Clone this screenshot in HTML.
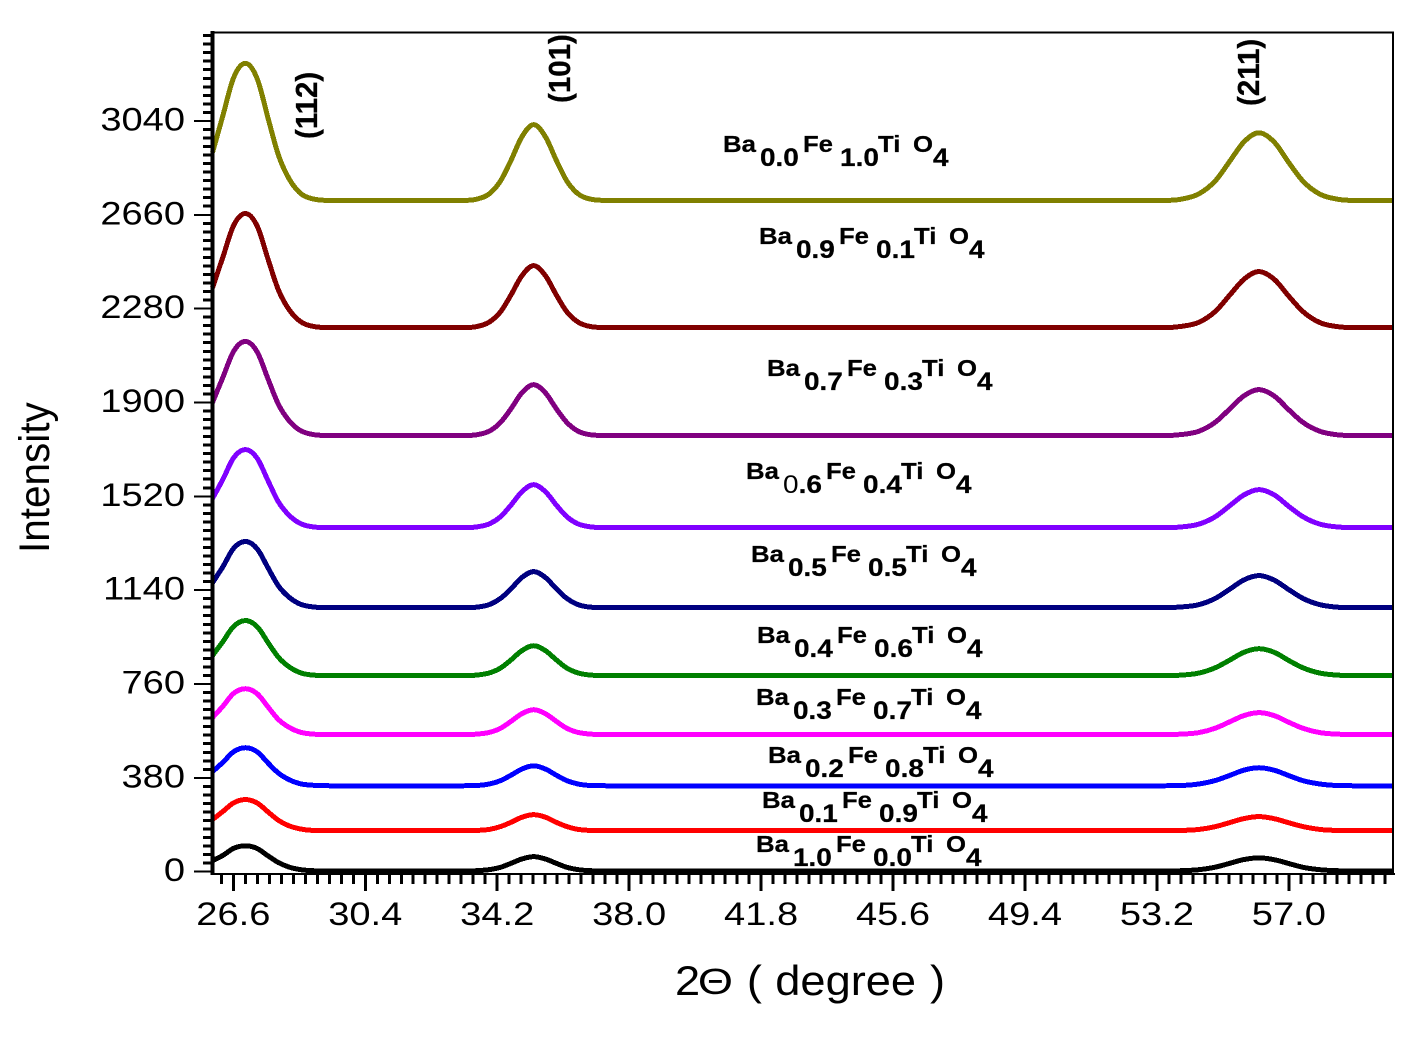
<!DOCTYPE html>
<html lang="en">
<head>
<meta charset="utf-8">
<title>XRD patterns of Ba-Fe-Ti-O4</title>
<style>
html,body{margin:0;padding:0;background:#fff;width:1422px;height:1041px;overflow:hidden}
svg{display:block}
text{font-family:"Liberation Sans",Arial,sans-serif;fill:#000}
.lbl{font-weight:bold;font-size:23px;stroke:#000;stroke-width:.25px}
.sb{font-size:25px}
.pk{font-weight:bold;font-size:29.5px;stroke:#000;stroke-width:.3px}
</style>
</head>
<body>
<svg id="chart" width="1422" height="1041" viewBox="0 0 1422 1041" xmlns="http://www.w3.org/2000/svg">
  <rect x="0" y="0" width="1422" height="1041" fill="#fff"/>
  <g id="series-layer" transform="translate(0,0.5)"></g>
  <g id="axis-layer"></g>

  <text transform="translate(49,553) scale(1.06,1) rotate(-90)" font-size="40.5">Intensity</text>
  <g transform="translate(675,995) scale(1.09,1)" font-size="41.5">
    <text x="0" y="0">2</text>
    <text transform="translate(21,-1) scale(1.15,1)" font-size="36">Θ</text>
    <text x="66" y="0">(</text>
    <text x="92" y="0">degree</text>
    <text x="234" y="0">)</text>
  </g>

  <text class="pk" transform="translate(317,139) scale(1.05,1) rotate(-90)">(112)</text>
  <text class="pk" transform="translate(570,103) scale(1.05,1) rotate(-90)">(101)</text>
  <text class="pk" transform="translate(1259,106) scale(1.05,1) rotate(-90)">(211)</text>

  <text class="lbl" transform="translate(723,152) scale(1.12,1)"><tspan x="0" y="0">Ba</tspan><tspan class="sb" x="33" y="14">0.0</tspan><tspan x="71.4" y="0">Fe</tspan><tspan class="sb" x="104.5" y="14">1.0</tspan><tspan x="138.4" y="0">Ti</tspan><tspan x="169.6" y="0">O</tspan><tspan class="sb" x="187.5" y="14">4</tspan></text>
  <text class="lbl" transform="translate(759,244) scale(1.12,1)"><tspan x="0" y="0">Ba</tspan><tspan class="sb" x="33" y="14">0.9</tspan><tspan x="71.4" y="0">Fe</tspan><tspan class="sb" x="104.5" y="14">0.1</tspan><tspan x="138.4" y="0">Ti</tspan><tspan x="169.6" y="0">O</tspan><tspan class="sb" x="187.5" y="14">4</tspan></text>
  <text class="lbl" transform="translate(767,376) scale(1.12,1)"><tspan x="0" y="0">Ba</tspan><tspan class="sb" x="33" y="14">0.7</tspan><tspan x="71.4" y="0">Fe</tspan><tspan class="sb" x="104.5" y="14">0.3</tspan><tspan x="138.4" y="0">Ti</tspan><tspan x="169.6" y="0">O</tspan><tspan class="sb" x="187.5" y="14">4</tspan></text>
  <text class="lbl" transform="translate(746,479) scale(1.12,1)"><tspan x="0" y="0">Ba</tspan><tspan class="sb" x="33" y="14" font-weight="normal" stroke="none">0</tspan><tspan class="sb" x="47" y="14">.6</tspan><tspan x="71.4" y="0">Fe</tspan><tspan class="sb" x="104.5" y="14">0.4</tspan><tspan x="138.4" y="0">Ti</tspan><tspan x="169.6" y="0">O</tspan><tspan class="sb" x="187.5" y="14">4</tspan></text>
  <text class="lbl" transform="translate(751,562) scale(1.12,1)"><tspan x="0" y="0">Ba</tspan><tspan class="sb" x="33" y="14">0.5</tspan><tspan x="71.4" y="0">Fe</tspan><tspan class="sb" x="104.5" y="14">0.5</tspan><tspan x="138.4" y="0">Ti</tspan><tspan x="169.6" y="0">O</tspan><tspan class="sb" x="187.5" y="14">4</tspan></text>
  <text class="lbl" transform="translate(757,643) scale(1.12,1)"><tspan x="0" y="0">Ba</tspan><tspan class="sb" x="33" y="14">0.4</tspan><tspan x="71.4" y="0">Fe</tspan><tspan class="sb" x="104.5" y="14">0.6</tspan><tspan x="138.4" y="0">Ti</tspan><tspan x="169.6" y="0">O</tspan><tspan class="sb" x="187.5" y="14">4</tspan></text>
  <text class="lbl" transform="translate(756,705) scale(1.12,1)"><tspan x="0" y="0">Ba</tspan><tspan class="sb" x="33" y="14">0.3</tspan><tspan x="71.4" y="0">Fe</tspan><tspan class="sb" x="104.5" y="14">0.7</tspan><tspan x="138.4" y="0">Ti</tspan><tspan x="169.6" y="0">O</tspan><tspan class="sb" x="187.5" y="14">4</tspan></text>
  <text class="lbl" transform="translate(768,763) scale(1.12,1)"><tspan x="0" y="0">Ba</tspan><tspan class="sb" x="33" y="14">0.2</tspan><tspan x="71.4" y="0">Fe</tspan><tspan class="sb" x="104.5" y="14">0.8</tspan><tspan x="138.4" y="0">Ti</tspan><tspan x="169.6" y="0">O</tspan><tspan class="sb" x="187.5" y="14">4</tspan></text>
  <text class="lbl" transform="translate(762,808) scale(1.12,1)"><tspan x="0" y="0">Ba</tspan><tspan class="sb" x="33" y="14">0.1</tspan><tspan x="71.4" y="0">Fe</tspan><tspan class="sb" x="104.5" y="14">0.9</tspan><tspan x="138.4" y="0">Ti</tspan><tspan x="169.6" y="0">O</tspan><tspan class="sb" x="187.5" y="14">4</tspan></text>
  <text class="lbl" transform="translate(756,852) scale(1.12,1)"><tspan x="0" y="0">Ba</tspan><tspan class="sb" x="33" y="14">1.0</tspan><tspan x="71.4" y="0">Fe</tspan><tspan class="sb" x="104.5" y="14">0.0</tspan><tspan x="138.4" y="0">Ti</tspan><tspan x="169.6" y="0">O</tspan><tspan class="sb" x="187.5" y="14">4</tspan></text>
</svg>

<script>
const twoTheta = [26.0,26.3,26.6,26.95,27.3,27.6,27.9,28.2,28.5,28.9,29.4,
  33.2,33.6,34.0,34.3,34.6,34.9,35.25,35.6,35.9,36.2,36.5,36.9,37.4,
  53.4,53.9,54.4,54.9,55.3,55.7,56.14,56.6,57.0,57.4,57.9,58.4,58.9,60.0];

const ba00 = [2914,3064,3214,3275,3208,3053,2903,2809,2753,2726,2720,
  2720,2725,2750,2800,2883,2975,3027,2975,2883,2800,2750,2725,2720,
  2720,2725,2746,2802,2879,2956,2994,2953,2873,2799,2745,2725,2720,2720];
const ba09 = [2367,2491,2616,2667,2612,2482,2357,2279,2233,2210,2205,
  2205,2209,2230,2270,2338,2413,2456,2413,2338,2270,2230,2209,2205,
  2205,2210,2226,2273,2337,2400,2432,2398,2332,2271,2225,2209,2205,2205];
const ba07 = [1902,2004,2107,2149,2103,1997,1894,1829,1791,1772,1768,
  1768,1771,1788,1822,1877,1939,1974,1939,1877,1822,1788,1771,1768,
  1768,1772,1785,1824,1876,1928,1954,1926,1872,1822,1785,1771,1768,1768];
const ba06 = [1513,1591,1676,1711,1673,1585,1499,1446,1414,1398,1395,
  1395,1398,1412,1440,1487,1539,1569,1539,1487,1440,1412,1398,1395,
  1395,1398,1409,1441,1484,1527,1549,1526,1481,1440,1409,1398,1395,1395];
const ba05 = [1172,1237,1310,1339,1307,1232,1159,1114,1087,1074,1071,
  1071,1073,1085,1109,1148,1192,1217,1192,1148,1109,1085,1073,1071,
  1071,1074,1083,1110,1146,1183,1201,1181,1144,1109,1083,1073,1071,1071];
const ba04 = [877,934,994,1019,992,930,870,832,809,798,796,
  796,798,808,827,860,896,917,896,860,827,808,798,796,
  796,798,806,829,859,890,905,889,857,828,806,798,796,796];
const ba03 = [626,672,723,743,721,669,618,587,568,559,557,
  557,559,567,583,611,641,658,641,611,583,567,559,557,
  557,559,565,584,609,634,646,633,607,583,565,559,557,557];
const ba02 = [407,445,487,504,486,442,401,375,359,352,350,
  350,351,358,371,393,417,431,417,393,371,358,351,350,
  350,351,357,372,392,413,423,412,391,371,357,351,350,350];
const ba01 = [213,246,280,294,279,244,210,188,176,169,168,
  168,169,174,185,202,222,233,222,202,185,174,169,168,
  168,169,173,185,201,217,225,216,200,185,173,169,168,168];
const ba10 = [47,68,96,107,95,66,39,21,11,6,5,
  5,6,11,20,36,53,63,53,36,20,11,6,5,
  5,6,10,21,36,51,58,50,35,20,10,6,5,5];

const seriesNames = ['ba00','ba09','ba07','ba06','ba05','ba04','ba03','ba02','ba01','ba10'];
const seriesValues = [ba00,ba09,ba07,ba06,ba05,ba04,ba03,ba02,ba01,ba10];
const seriesColors = ['#808000','#800000','#800080','#8000ff','#000080','#008000','#ff00ff','#0000ff','#ff0000','#000000'];

const xTickLabels = ['26.6','30.4','34.2','38.0','41.8','45.6','49.4','53.2','57.0'];
const yTickLabels = ['0','380','760','1140','1520','1900','2280','2660','3040'];

const xDomain = [26, 60];
const yDomain = [0, 3400];
const plotLeft = 212.5, plotRight = 1393, plotTop = 32, plotBottom = 871.7;

function xScale(v){ return plotLeft + (v - xDomain[0]) / (xDomain[1] - xDomain[0]) * (plotRight - plotLeft); }
function yScale(v){ return plotBottom - (v - yDomain[0]) / (yDomain[1] - yDomain[0]) * (plotBottom - plotTop); }

const NS = 'http://www.w3.org/2000/svg';
function mk(tag, parent){
  const el = document.createElementNS(NS, tag);
  parent.appendChild(el);
  return el;
}

function smoothPath(xs, ys){
  const n = xs.length, d = [], h = [], m = [];
  for (let i = 0; i < n - 1; i++) {
    h.push(xs[i+1] - xs[i]);
    d.push((ys[i+1] - ys[i]) / h[i]);
  }
  m.push(d[0]);
  for (let i = 1; i < n - 1; i++) {
    if (d[i-1] * d[i] <= 0) { m.push(0); continue; }
    const c = (d[i-1] * h[i] + d[i] * h[i-1]) / (h[i-1] + h[i]);
    const lim = 3 * Math.min(Math.abs(d[i-1]), Math.abs(d[i]));
    m.push(Math.sign(c) * Math.min(Math.abs(c), lim));
  }
  m.push(d[n-2]);
  let p = 'M' + xs[0].toFixed(2) + ' ' + ys[0].toFixed(2);
  for (let i = 0; i < n - 1; i++) {
    const t = h[i] / 3;
    p += 'C' + (xs[i] + t).toFixed(2) + ' ' + (ys[i] + m[i] * t).toFixed(2) + ' ' +
         (xs[i+1] - t).toFixed(2) + ' ' + (ys[i+1] - m[i+1] * t).toFixed(2) + ' ' +
         xs[i+1].toFixed(2) + ' ' + ys[i+1].toFixed(2);
  }
  return p;
}

const seriesLayer = document.getElementById('series-layer');
const axisLayer = document.getElementById('axis-layer');

seriesValues.forEach(function(vals, i){
  const path = mk('path', seriesLayer);
  
  
  path.setAttribute('d', smoothPath(twoTheta.map(xScale), vals.map(yScale)));
  path.setAttribute('fill', 'none');
  path.setAttribute('stroke', seriesColors[i]);
  path.setAttribute('stroke-width', '5');
  path.setAttribute('stroke-linejoin', 'round');
  path.setAttribute('shape-rendering', 'crispEdges');
});

function line(x1, y1, x2, y2, w, name){
  const l = mk('line', axisLayer);
  
  
  l.setAttribute('x1', x1);
  l.setAttribute('y1', y1);
  l.setAttribute('x2', x2);
  l.setAttribute('y2', y2);
  l.setAttribute('stroke', '#000');
  l.setAttribute('stroke-width', w);
  l.setAttribute('shape-rendering', 'crispEdges');
  return l;
}

line(212.5, 31, 212.5, 875, 4, 'y-axis-line');
line(211, 874, 1395, 874, 2, 'x-axis-line');
line(211, 32.5, 1394, 32.5, 2, 'top-border');
line(1393, 32, 1393, 875, 2, 'right-border');

const xStep = Number(xTickLabels[1]) - Number(xTickLabels[0]);
const yStep = Number(yTickLabels[1]) - Number(yTickLabels[0]);
const minorDivisions = 11;

for (let k = -1; k <= xTickLabels.length * minorDivisions; k++) {
  const v = Number(xTickLabels[0]) + k * xStep / minorDivisions;
  if (v < xDomain[0] || v > xDomain[1]) continue;
  const major = ((k % minorDivisions) + minorDivisions) % minorDivisions === 0;
  line(xScale(v), 874, xScale(v), major ? 891 : 884, 3, major ? 'x-major-tick' : 'x-minor-tick');
}
for (let k = 0; k <= yTickLabels.length * minorDivisions; k++) {
  const v = Number(yTickLabels[0]) + k * yStep / minorDivisions;
  if (v > yDomain[1]) continue;
  const major = k % minorDivisions === 0;
  line(major ? 194 : 203, yScale(v), 212, yScale(v), major ? 2 : 3, major ? 'y-major-tick' : 'y-minor-tick');
}

xTickLabels.forEach(function(t){
  const el = mk('text', axisLayer);
  
  
  el.setAttribute('transform', 'translate(' + xScale(Number(t)) + ',925) scale(1.19,1)');
  el.setAttribute('text-anchor', 'middle');
  el.setAttribute('font-size', '32');
  el.textContent = t;
});
yTickLabels.forEach(function(t){
  const el = mk('text', axisLayer);
  
  
  el.setAttribute('transform', 'translate(185,' + (yScale(Number(t)) + 9.5) + ') scale(1.19,1)');
  el.setAttribute('text-anchor', 'end');
  el.setAttribute('font-size', '32');
  el.textContent = t;
});
</script>
</body>
</html>
